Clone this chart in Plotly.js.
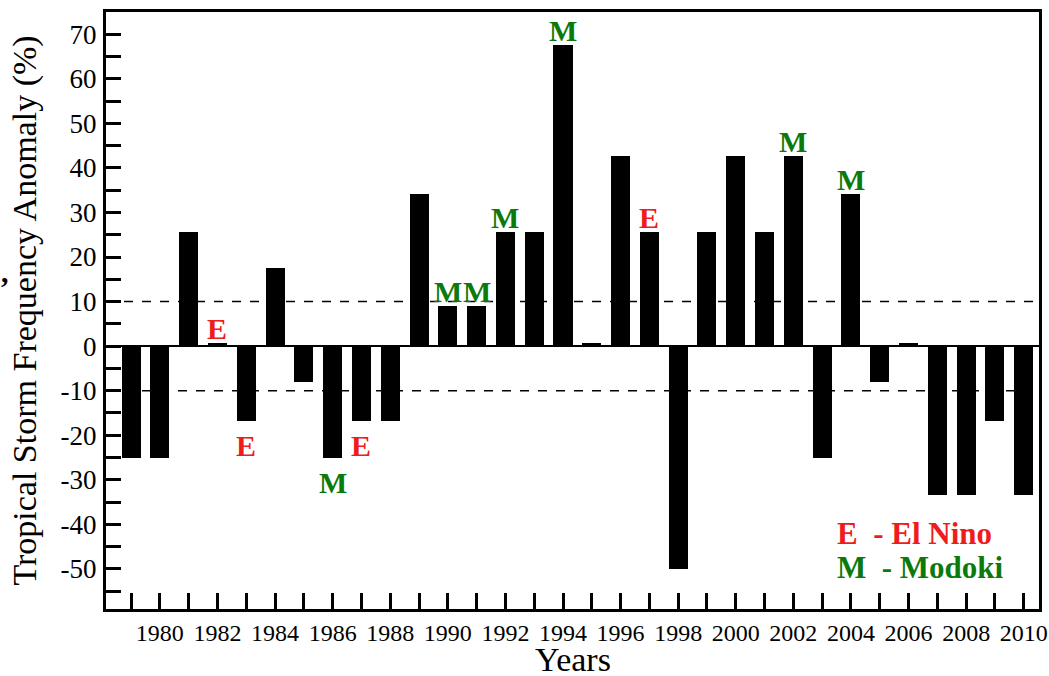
<!DOCTYPE html>
<html>
<head>
<meta charset="utf-8">
<script src="https://cdn.plot.ly/plotly-3.0.1.min.js"></script>
<style>
  html, body { margin: 0; padding: 0; background: #fff; }
  #chart { width: 1049px; height: 676px; }
</style>
</head>
<body>
<div id="chart"></div>
<script>
// Annual tropical storm frequency anomaly (%), 1979-2010
const years = [1979, 1980, 1981, 1982, 1983, 1984, 1985, 1986, 1987, 1988,
               1989, 1990, 1991, 1992, 1993, 1994, 1995, 1996, 1997, 1998,
               1999, 2000, 2001, 2002, 2003, 2004, 2005, 2006, 2007, 2008,
               2009, 2010];
const anomaly = [-25, -25, 25.6, 0.8, -16.7, 17.5, -8.1, -25, -16.7, -16.7,
                 34.2, 8.9, 8.9, 25.6, 25.6, 67.6, 0.8, 42.6, 25.6, -50,
                 25.6, 42.6, 25.6, 42.6, -25, 34.2, -8.1, 0.8, -33.3, -33.3,
                 -16.7, -33.3];

// Event years: E = El Nino, M = El Nino Modoki
const eventYears = [1982, 1983, 1986, 1987, 1990, 1991, 1992, 1994, 1997, 2002, 2004];
const eventKinds = ['E', 'E', 'M', 'E', 'M', 'M', 'M', 'M', 'E', 'M', 'M'];

const yTickVals = [-50, -40, -30, -20, -10, 0, 10, 20, 30, 40, 50, 60, 70];
const yTickText = yTickVals.map(v => String(v));          // plain hyphen minus
const xTickText = years.map(y => (y % 2 === 0 ? String(y) : ''));

const RED = '#ee1c1c';
const GREEN = '#0b7a0b';
const kindColor = { E: RED, M: GREEN };

const serif = 'Liberation Serif, Times New Roman, serif';

const trace = {
  type: 'bar',
  x: years,
  y: anomaly,
  width: 0.66,
  marker: { color: '#000', line: { width: 0 } },
  hoverinfo: 'x+y'
};

const annotations = eventYears.map((yr, i) => {
  const v = anomaly[years.indexOf(yr)];
  const up = v >= 0;
  return {
    x: yr, y: v, xref: 'x', yref: 'y',
    text: '<b>' + eventKinds[i] + '</b>',
    showarrow: false,
    xanchor: 'center',
    yanchor: up ? 'bottom' : 'top',
    yshift: up ? -4 : -6,
    font: { family: serif, size: 30, color: kindColor[eventKinds[i]] }
  };
});

annotations.push(
  { xref: 'paper', yref: 'paper', x: 0.781, y: 0.127, xanchor: 'left', yanchor: 'middle',
    text: '<b>E\u00a0\u00a0- El Nino</b>', showarrow: false,
    font: { family: serif, size: 31, color: RED } },
  { xref: 'paper', yref: 'paper', x: 0.781, y: 0.070, xanchor: 'left', yanchor: 'middle',
    text: '<b>M\u00a0\u00a0- Modoki</b>', showarrow: false,
    font: { family: serif, size: 31, color: GREEN } },
  // x-axis title, set below the year labels
  { xref: 'paper', yref: 'paper', x: 0.5, y: -0.084, xanchor: 'center', yanchor: 'middle',
    text: 'Years', showarrow: false, borderpad: 0,
    font: { family: serif, size: 34, color: '#000' } }
);

const layout = {
  width: 1049, height: 676,
  margin: { l: 106, r: 10, t: 12, b: 67 },
  paper_bgcolor: '#fff', plot_bgcolor: '#fff',
  font: { family: serif, color: '#000' },
  showlegend: false,
  bargap: 0,
  xaxis: {
    range: [1978.13, 2010.53],
    tickvals: years, ticktext: xTickText,
    ticks: 'inside', ticklen: 16, tickwidth: 3, tickcolor: '#000',
    tickfont: { family: serif, size: 24, color: '#000' },
    ticklabelstandoff: 0,
    showline: true, linecolor: '#000', linewidth: 3, mirror: true,
    showgrid: false, zeroline: false
  },
  yaxis: {
    range: [-59, 75],
    tickvals: yTickVals, ticktext: yTickText,
    ticks: 'inside', ticklen: 15, tickwidth: 3, tickcolor: '#000',
    minor: { dtick: 5, tick0: 0, ticks: 'inside', ticklen: 15, tickwidth: 3, tickcolor: '#000', showgrid: false },
    tickfont: { family: serif, size: 27, color: '#000' },
    ticklabelstandoff: 1,
    showline: true, linecolor: '#000', linewidth: 3, mirror: true,
    showgrid: false,
    zeroline: true, zerolinecolor: '#000', zerolinewidth: 1.5,
    title: { text: 'Tropical Storm Frequency Anomaly (%)', font: { family: serif, size: 34, color: '#000' }, standoff: 14 }
  },
  shapes: [10, -10].map(v => ({
    type: 'line', xref: 'paper', yref: 'y', x0: 0, x1: 1, y0: v, y1: v,
    line: { color: '#000', width: 1.5, dash: 'dash' }, layer: 'below'
  })),
  annotations: annotations
};

Plotly.newPlot('chart', [trace], layout, { displayModeBar: false, staticPlot: true }).then(gd => {
  // stray comma to the left of the axis title, placed in page pixels
  const svg = gd.querySelector('.main-svg:last-of-type') || gd.querySelector('svg');
  const ns = 'http://www.w3.org/2000/svg';
  const t = document.createElementNS(ns, 'text');
  t.setAttribute('x', 1);
  t.setAttribute('y', 282);
  t.setAttribute('font-family', serif);
  t.setAttribute('font-size', 30);
  t.setAttribute('font-weight', 'bold');
  t.setAttribute('fill', '#000');
  t.textContent = ',';
  svg.appendChild(t);
});
</script>
</body>
</html>
